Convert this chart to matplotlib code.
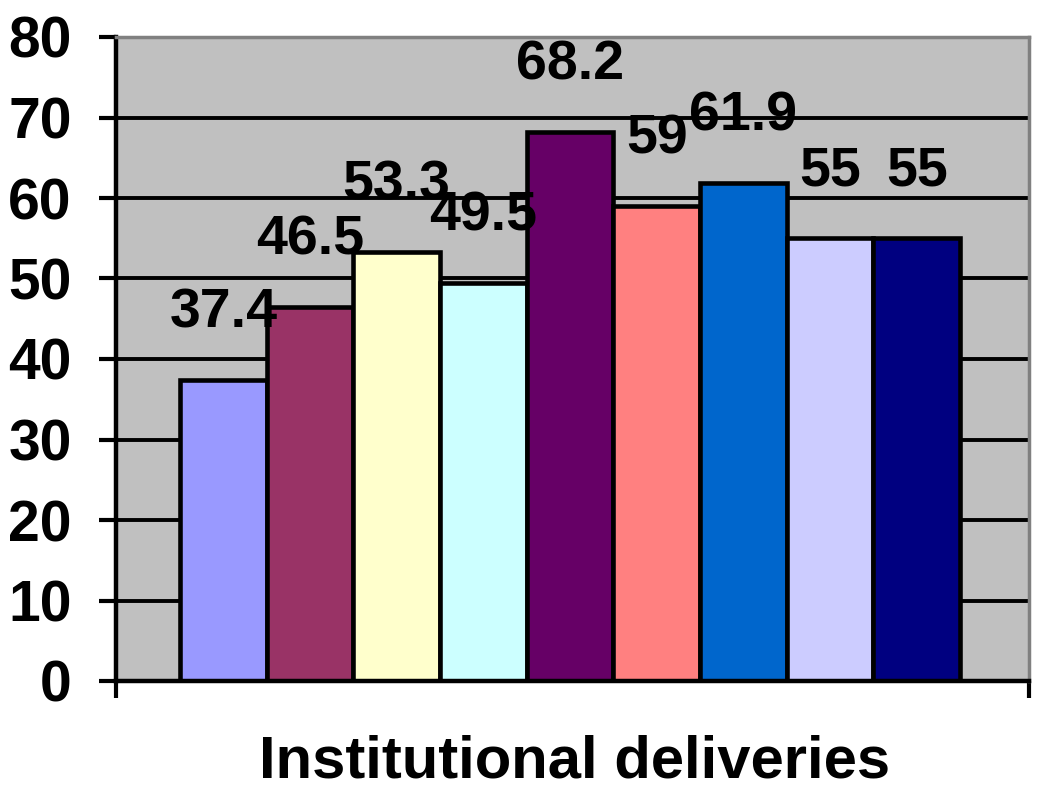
import numpy as np
import matplotlib
matplotlib.use('Agg')
import matplotlib.pyplot as plt

plt.rcParams['font.family'] = ['Liberation Sans', 'DejaVu Sans']

values = [37.4, 46.5, 53.3, 49.5, 68.2, 59, 61.9, 55, 55]
labels = ['37.4', '46.5', '53.3', '49.5', '68.2', '59', '61.9', '55', '55']
colors = ['#9999FF', '#993366', '#FFFFCC', '#CCFFFF', '#660066',
          '#FF8080', '#0066CC', '#CCCCFF', '#000080']
yticks = [0, 10, 20, 30, 40, 50, 60, 70, 80]
xlabel = 'Institutional deliveries'

fig = plt.figure(figsize=(10.38, 7.92), dpi=100)
ax = fig.add_axes([116/1038, 1-681/792, (1029-116)/1038, (681-37)/792])
ax.set_facecolor('#C0C0C0')

x = np.arange(len(values))
for yv in yticks[1:-1]:
    ax.axhline(yv, color='black', lw=2.8, zorder=1)
ax.bar(x, values, width=1.0, color=colors, edgecolor='black', linewidth=3.3, zorder=2)

for xi, v, t in zip(x, values, labels):
    ax.text(xi, v + 6.5, t, ha='center', va='baseline', fontsize=40,
            fontweight='bold', zorder=3)

ax.set_xlim(-1.238, 9.296)
ax.set_ylim(0, 80)
ax.set_yticks(yticks)
ax.set_yticklabels([str(t) for t in yticks], fontsize=41, fontweight='bold')
ax.tick_params(axis='y', direction='out', length=12, width=3, pad=20)
ax.set_xticks([-1.238, 9.296])
ax.set_xticklabels(['', ''])
ax.tick_params(axis='x', direction='out', length=12, width=3)

ax.spines['left'].set_linewidth(3.2)
ax.spines['left'].set_color('black')
ax.spines['bottom'].set_linewidth(3.2)
ax.spines['bottom'].set_color('black')
ax.spines['top'].set_linewidth(2.5)
ax.spines['top'].set_color('#808080')
ax.spines['right'].set_linewidth(2.5)
ax.spines['right'].set_color('#808080')

fig.text(575/1038, (792-778)/792, xlabel, ha='center', va='baseline',
         fontsize=43, fontweight='bold')

fig.savefig('out.png', dpi=100)
